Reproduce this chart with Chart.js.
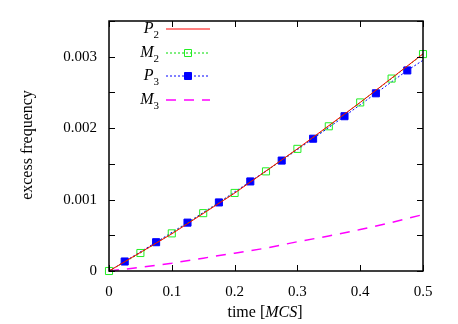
<!DOCTYPE html>
<html lang="en">
<head>
  <meta charset="UTF-8" />
  <title>Excess frequency</title>
  <script src="https://cdn.jsdelivr.net/npm/chart.js"></script>
  <style>
    html, body { margin: 0; padding: 0; background: #fff; }
    #wrap { width: 458px; height: 324px; }
  </style>
</head>
<body>
  <div id="wrap"><canvas id="plot" width="458" height="324"></canvas></div>

  <script>
    // data
    const timeP2 = [0, 0.1, 0.2, 0.3, 0.4, 0.5];
    const p2 = [0, 0.00052, 0.00109, 0.00171, 0.00236, 0.00304];

    const timeM2 = [0, 0.05, 0.1, 0.15, 0.2, 0.25, 0.3, 0.35, 0.4, 0.45, 0.5];
    const m2 = [0, 0.000252, 0.000527, 0.00081, 0.001093, 0.001395, 0.00171, 0.002026, 0.00236, 0.002694, 0.003037];

    const timeP3 = [0, 0.025, 0.075, 0.125, 0.175, 0.225, 0.275, 0.325, 0.375, 0.425, 0.475, 0.5];
    const p3 = [0, 0.000133, 0.000403, 0.000677, 0.00096, 0.001254, 0.001546, 0.001852, 0.002167, 0.002488, 0.002808, 0.00295];

    const timeM3 = [0, 0.05, 0.1, 0.15, 0.2, 0.25, 0.3, 0.35, 0.4, 0.45, 0.5];
    const m3 = [0, 0.00005, 0.00011, 0.00018, 0.00025, 0.00032, 0.00041, 0.00049, 0.00058, 0.00068, 0.00079];

    const seriesNames = ['P2', 'M2', 'P3', 'M3'];
    const xTicks = [0, 0.1, 0.2, 0.3, 0.4, 0.5];
    const yTicks = [0, 0.001, 0.002, 0.003];

    const FONT = '"Liberation Serif", "Times New Roman", serif';

    function pts(xs, ys) {
      return xs.map((x, i) => ({ x: x, y: ys[i] }));
    }

    // border, inward ticks, axis titles, legend
    const decor = {
      id: 'decor',
      afterDraw(chart) {
        const ctx = chart.ctx;
        const a = chart.chartArea;
        const xs = chart.scales.x, ys = chart.scales.y;
        ctx.save();
        ctx.strokeStyle = '#000';
        ctx.lineWidth = 1.5;
        ctx.strokeRect(a.left, a.top, a.right - a.left, a.bottom - a.top);

        ctx.lineWidth = 1;
        ctx.beginPath();
        xs.ticks.forEach(t => {
          const px = Math.round(xs.getPixelForValue(t.value)) + 0.5;
          ctx.moveTo(px, a.bottom); ctx.lineTo(px, a.bottom - 6);
          ctx.moveTo(px, a.top); ctx.lineTo(px, a.top + 6);
        });
        ys.ticks.forEach(t => {
          const py = Math.round(ys.getPixelForValue(t.value)) + 0.5;
          ctx.moveTo(a.left, py); ctx.lineTo(a.left + 6, py);
          ctx.moveTo(a.right, py); ctx.lineTo(a.right - 6, py);
        });
        ctx.stroke();

        // axis titles
        ctx.fillStyle = '#000';
        ctx.font = '16px ' + FONT;
        ctx.textBaseline = 'middle';
        ctx.save();
        ctx.translate(28, 145);
        ctx.rotate(-Math.PI / 2);
        ctx.textAlign = 'center';
        ctx.fillText('excess frequency', 0, 0);
        ctx.restore();

        const parts = [['time [', false], ['MCS', true], [']', false]];
        let total = 0;
        parts.forEach(p => {
          ctx.font = (p[1] ? 'italic ' : '') + '16px ' + FONT;
          total += ctx.measureText(p[0]).width;
        });
        let cx = 265 - total / 2;
        ctx.textAlign = 'left';
        parts.forEach(p => {
          ctx.font = (p[1] ? 'italic ' : '') + '16px ' + FONT;
          ctx.fillText(p[0], cx, 313);
          cx += ctx.measureText(p[0]).width;
        });

        // legend
        chart.data.datasets.forEach((ds, i) => {
          const y = Math.round(29 + i * 23.7);
          const name = seriesNames[i];
          ctx.fillStyle = '#000';
          ctx.font = '11px ' + FONT;
          const subW = ctx.measureText(name.slice(1)).width;
          ctx.textAlign = 'right';
          ctx.fillText(name.slice(1), 159, y + 6);
          ctx.font = 'italic 16px ' + FONT;
          ctx.fillText(name[0], 159 - subW, y);

          ctx.save();
          ctx.strokeStyle = ds.borderColor;
          ctx.lineWidth = ds.borderWidth;
          ctx.setLineDash(ds.borderDash || []);
          ctx.beginPath();
          ctx.moveTo(166, y); ctx.lineTo(210, y);
          ctx.stroke();
          ctx.restore();
          if (ds.legendMarker) {
            ctx.save();
            ctx.fillStyle = ds.pointBackgroundColor;
            ctx.strokeStyle = ds.pointBorderColor;
            ctx.lineWidth = 1;
            ctx.beginPath();
            ctx.rect(188 - 3.5, y - 3.5, 7, 7);
            if (ds.pointBackgroundColor !== 'rgba(0,0,0,0)') ctx.fill();
            ctx.stroke();
            ctx.restore();
          }
        });
        ctx.restore();
      }
    };

    new Chart(document.getElementById('plot'), {
      type: 'scatter',
      data: {
        datasets: [
          {
            label: seriesNames[0],
            data: pts(timeP2, p2),
            showLine: true,
            borderColor: '#ff0000',
            borderWidth: 1,
            pointRadius: 0,
            clip: false
          },
          {
            label: seriesNames[1],
            data: pts(timeM2, m2),
            showLine: true,
            borderColor: '#00dd00',
            borderWidth: 1,
            borderDash: [2, 2],
            pointStyle: 'rect',
            pointRadius: 5,
            pointBorderWidth: 1,
            pointBorderColor: '#22ee22',
            pointBackgroundColor: 'rgba(0,0,0,0)',
            legendMarker: true,
            clip: false
          },
          {
            label: seriesNames[2],
            data: pts(timeP3, p3),
            showLine: true,
            borderColor: '#0000ff',
            borderWidth: 1,
            borderDash: [2, 2],
            pointStyle: 'rect',
            pointRadius: ctx => (ctx.dataIndex === 0 || ctx.dataIndex === timeP3.length - 1) ? 0 : 5,
            pointBorderWidth: 1,
            pointBorderColor: '#0000ff',
            pointBackgroundColor: '#0000ff',
            legendMarker: true,
            clip: false
          },
          {
            label: seriesNames[3],
            data: pts(timeM3, m3),
            showLine: true,
            borderColor: '#ff00ff',
            borderWidth: 1.5,
            borderDash: [10, 8],
            pointRadius: 0,
            clip: false
          }
        ]
      },
      options: {
        responsive: false,
        animation: false,
        layout: { padding: { left: 0, top: 16, right: 35, bottom: 0 } },
        plugins: {
          legend: { display: false },
          tooltip: { enabled: false }
        },
        scales: {
          x: {
            type: 'linear',
            min: 0,
            max: 0.5,
            afterBuildTicks: s => { s.ticks = xTicks.map(v => ({ value: v })); },
            afterFit: s => { s.height = 53; },
            grid: { display: false, drawTicks: false },
            border: { display: false },
            ticks: {
              padding: 12,
              maxRotation: 0,
              autoSkip: false,
              color: '#000',
              font: { family: FONT, size: 15 },
              callback: v => v === 0 ? '0' : v.toFixed(1)
            }
          },
          y: {
            min: 0,
            max: 0.0035,
            afterBuildTicks: s => {
              s.ticks = [0, 1, 2, 3, 4, 5, 6, 7].map(k => ({ value: k * 0.0005 }));
            },
            afterFit: s => { s.width = 109; },
            grid: { display: false, drawTicks: false },
            border: { display: false },
            ticks: {
              padding: 12,
              autoSkip: false,
              color: '#000',
              font: { family: FONT, size: 15 },
              callback: v => {
                const k = Math.round(v / 0.0005);
                if (k % 2 !== 0) return '';
                const val = yTicks[k / 2];
                if (val === undefined) return '';
                return val === 0 ? '0' : val.toFixed(3);
              }
            }
          }
        }
      },
      plugins: [decor]
    });
  </script>
</body>
</html>
